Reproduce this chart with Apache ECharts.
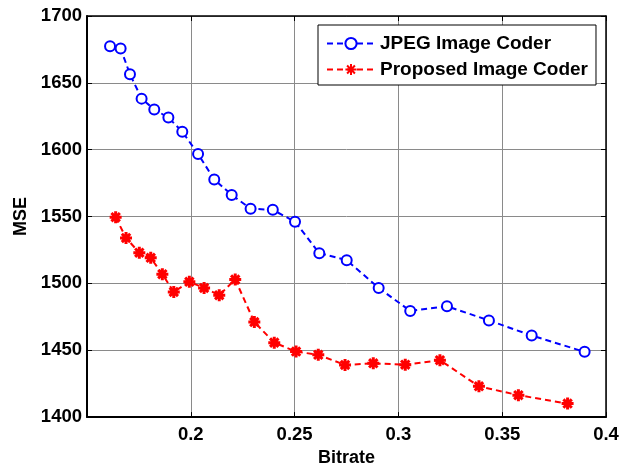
<!DOCTYPE html>
<html><head><meta charset="utf-8">
<script src="https://cdn.jsdelivr.net/npm/echarts@6/dist/echarts.min.js"></script>
<style>html,body{margin:0;padding:0;background:#fff}#c{width:627px;height:472px}</style>
</head><body><div id="c"></div>
<script>
const jpegX = [0.1611,0.1662,0.1707,0.1763,0.1824,0.1892,0.1959,0.2035,0.2113,0.2197,0.2288,0.2395,0.2502,0.2619,0.2751,0.2905,0.3057,0.3234,0.3436,0.3642,0.3897];
const jpegY = [1677.4,1675.7,1656.4,1638.2,1630.1,1624,1613.5,1596.8,1577.7,1566.2,1555.9,1555,1546.1,1522.6,1517.4,1496.6,1479.4,1482.9,1472.3,1461,1448.8];
const propX = [0.1638,0.1688,0.1752,0.1807,0.1863,0.1918,0.1993,0.2064,0.2137,0.2214,0.2306,0.2402,0.2507,0.2614,0.2743,0.2879,0.3033,0.3200,0.3388,0.3578,0.3815];
const propY = [1549.5,1534,1523,1519.1,1506.9,1493.6,1501.2,1496.6,1491.2,1502.9,1471.1,1455.7,1449,1446.6,1439,1440.2,1439.2,1442.6,1423,1416.4,1410.1];
const seriesNames = ['JPEG Image Coder','Proposed Image Coder'];
const xTicks = {min:0.15,max:0.4,interval:0.05};
const yTicks = {min:1400,max:1700,interval:50};

const font = 'Arial, "Liberation Sans", sans-serif';
const pair = (xs, ys) => xs.map((x,i)=>[x,ys[i]]);
const star = 'path://M0,-10L0,10M-10,0L10,0M-7,-7L7,7M-7,7L7,-7M-3,-3L3,3';
const chart = echarts.init(document.getElementById('c'), null, {renderer:'canvas'});
const tickStyle = {show:true, inside:true, length:5, lineStyle:{color:'#000',width:1}};
chart.setOption({
  animation:false,
  backgroundColor:'#fff',
  grid:{left:87,right:21,top:16,bottom:48,containLabel:false},
  legend:{
    left:318, top:25, orient:'vertical',
    backgroundColor:'#fff', borderColor:'#000', borderWidth:1, borderRadius:0,
    padding:[9,8,6,8], itemGap:7, itemWidth:48, itemHeight:14,
    textStyle:{fontFamily:font,fontWeight:'bold',fontSize:19,color:'#000'},
    data:seriesNames
  },
  xAxis:[{
    type:'value', min:xTicks.min, max:xTicks.max, interval:xTicks.interval,
    name:'Bitrate', nameLocation:'middle', nameGap:29,
    nameTextStyle:{fontFamily:font,fontWeight:'bold',fontSize:18,color:'#000'},
    axisLine:{show:true,onZero:false,lineStyle:{color:'#000',width:2}},
    axisTick:tickStyle,
    axisLabel:{margin:8,fontFamily:font,fontWeight:'bold',fontSize:18.5,color:'#000',
      formatter:v=>v<0.16?'':String(+v.toFixed(2))},
    splitLine:{show:true,lineStyle:{color:'#8a8a8a',width:1}}
  },{
    type:'value', position:'top', min:xTicks.min, max:xTicks.max, interval:xTicks.interval,
    axisLine:{show:true,onZero:false,lineStyle:{color:'#000',width:1.5}},
    axisTick:tickStyle, axisLabel:{show:false}, splitLine:{show:false}
  }],
  yAxis:[{
    type:'value', min:yTicks.min, max:yTicks.max, interval:yTicks.interval,
    name:'MSE', nameLocation:'middle', nameGap:54, nameRotate:90,
    nameTextStyle:{fontFamily:font,fontWeight:'bold',fontSize:18,color:'#000'},
    axisLine:{show:true,onZero:false,lineStyle:{color:'#000',width:2}},
    axisTick:tickStyle,
    axisLabel:{margin:5,fontFamily:font,fontWeight:'bold',fontSize:18.5,color:'#000',
      formatter:v=>String(v)},
    splitLine:{show:true,lineStyle:{color:'#8a8a8a',width:1}}
  },{
    type:'value', position:'right', min:yTicks.min, max:yTicks.max, interval:yTicks.interval,
    axisLine:{show:true,onZero:false,lineStyle:{color:'#000',width:1.5}},
    axisTick:tickStyle, axisLabel:{show:false}, splitLine:{show:false}
  }],
  series:[{
    name:seriesNames[0], type:'line', data:pair(jpegX,jpegY),
    symbol:'circle', symbolSize:10, showAllSymbol:true,
    lineStyle:{color:'#0000ff',width:2,type:[6,4]},
    itemStyle:{color:'#ffffff',borderColor:'#0000ff',borderWidth:2},
    z:3
  },{
    name:seriesNames[1], type:'line', data:pair(propX,propY),
    symbol:star, symbolSize:12, showAllSymbol:true,
    lineStyle:{color:'#ff0000',width:2,type:[6,4]},
    itemStyle:{color:'#ff0000',borderColor:'#ff0000',borderWidth:3},
    z:3
  }]
});
</script></body></html>
